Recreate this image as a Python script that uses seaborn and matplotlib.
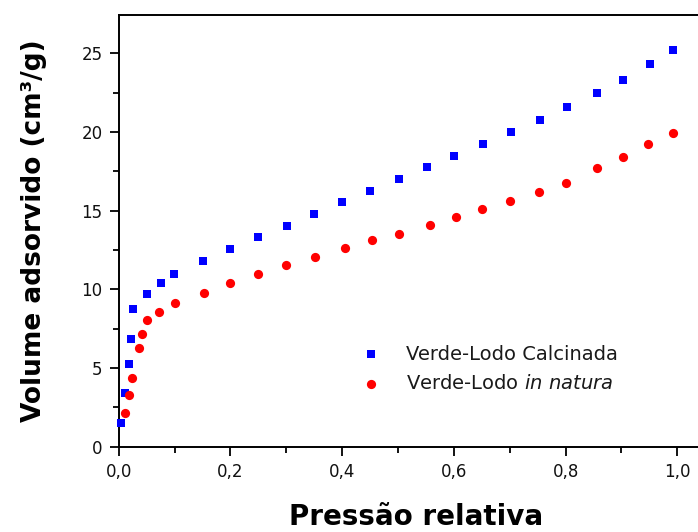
import matplotlib
matplotlib.use("Agg")
import matplotlib.pyplot as plt
import seaborn as sns
import pandas as pd
from matplotlib.ticker import MultipleLocator

# ---- data ----
calc_x = [0.005, 0.011, 0.018, 0.022, 0.026, 0.051, 0.075, 0.099, 0.151, 0.200,
          0.249, 0.301, 0.350, 0.400, 0.450, 0.502, 0.552, 0.600, 0.653, 0.702,
          0.754, 0.803, 0.857, 0.903, 0.952, 0.993]
calc_y = [1.52, 3.39, 5.24, 6.84, 8.75, 9.70, 10.38, 10.95, 11.80, 12.54,
          13.30, 14.04, 14.78, 15.53, 16.26, 17.01, 17.75, 18.49, 19.23, 19.97,
          20.78, 21.60, 22.47, 23.32, 24.31, 25.18]

nat_x = [0.011, 0.018, 0.024, 0.036, 0.041, 0.051, 0.073, 0.101, 0.153, 0.200,
         0.249, 0.300, 0.351, 0.405, 0.454, 0.502, 0.557, 0.603, 0.650, 0.700,
         0.752, 0.801, 0.856, 0.902, 0.948, 0.993]
nat_y = [2.14, 3.27, 4.38, 6.25, 7.16, 8.05, 8.58, 9.11, 9.75, 10.40,
         10.95, 11.56, 12.05, 12.60, 13.11, 13.53, 14.09, 14.59, 15.10, 15.59,
         16.20, 16.75, 17.69, 18.42, 19.23, 19.91]

label_calc = "Verde-Lodo Calcinada"
label_nat = r"Verde-Lodo $\mathit{in\ natura}$"

x_ticks = [0.0, 0.2, 0.4, 0.6, 0.8, 1.0]
x_tick_labels = ["0,0", "0,2", "0,4", "0,6", "0,8", "1,0"]
y_ticks = [0, 5, 10, 15, 20, 25]
y_tick_labels = ["0", "5", "10", "15", "20", "25"]

x_title = "Pressão relativa"
y_title = "Volume adsorvido (cm³/g)"

# ---- style ----
sns.set_style("ticks")
plt.rcParams["font.family"] = ["DejaVu Sans"]
plt.rcParams["mathtext.fontset"] = "dejavusans"
plt.rcParams["text.color"] = "black"
plt.rcParams["axes.labelcolor"] = "black"

fig = plt.figure(figsize=(6.98, 5.32), dpi=100)
# axes: left spine at x=118.7px, bottom at y=446.7px, top at 14.7px; extends beyond right edge
ax = fig.add_axes([118.7 / 698, (532 - 446.7) / 532, 1.05 * 558.6 / 698, 432 / 532])

df_c = pd.DataFrame({"x": calc_x, "y": calc_y})
df_n = pd.DataFrame({"x": nat_x, "y": nat_y})

sns.scatterplot(data=df_c, x="x", y="y", ax=ax, marker="s", s=38, color="#0000ff",
                linewidth=0, label=label_calc, clip_on=False, zorder=3)
sns.scatterplot(data=df_n, x="x", y="y", ax=ax, marker="o", s=44, color="#ff0000",
                linewidth=0, label=label_nat, clip_on=False, zorder=3)

ax.set_xlim(0, 1.05)
ax.set_ylim(0, 27.45)

ax.set_xticks(x_ticks)
ax.set_xticklabels(x_tick_labels)
ax.set_yticks(y_ticks)
ax.set_yticklabels(y_tick_labels)
ax.xaxis.set_minor_locator(MultipleLocator(0.1))
ax.yaxis.set_minor_locator(MultipleLocator(2.5))

for sp in ax.spines.values():
    sp.set_linewidth(1.4)
    sp.set_color("black")

ax.tick_params(axis="both", which="major", direction="out", length=6.5, width=1.3,
               labelsize=12, pad=5, colors="black", labelcolor="#111111")
ax.tick_params(axis="both", which="minor", direction="out", length=4, width=1.3,
               colors="black")

ax.set_xlabel(x_title, fontsize=20, fontweight="bold", color="black")
ax.set_ylabel(y_title, fontsize=19, fontweight="bold", color="black")
ax.xaxis.set_label_coords((416 - 118.7) / (1.05 * 558.6), -0.131)
ax.yaxis.set_label_coords(-0.122, 0.5)

leg = ax.legend(loc="upper left", bbox_to_anchor=(334.5 / 698, 1 - 327 / 532),
                bbox_transform=fig.transFigure, frameon=False, fontsize=14,
                handletextpad=0.8, labelspacing=0.56, borderpad=0.4)
for t in leg.get_texts():
    t.set_color("#1a1a1a")

fig.savefig("out.png", dpi=100)
